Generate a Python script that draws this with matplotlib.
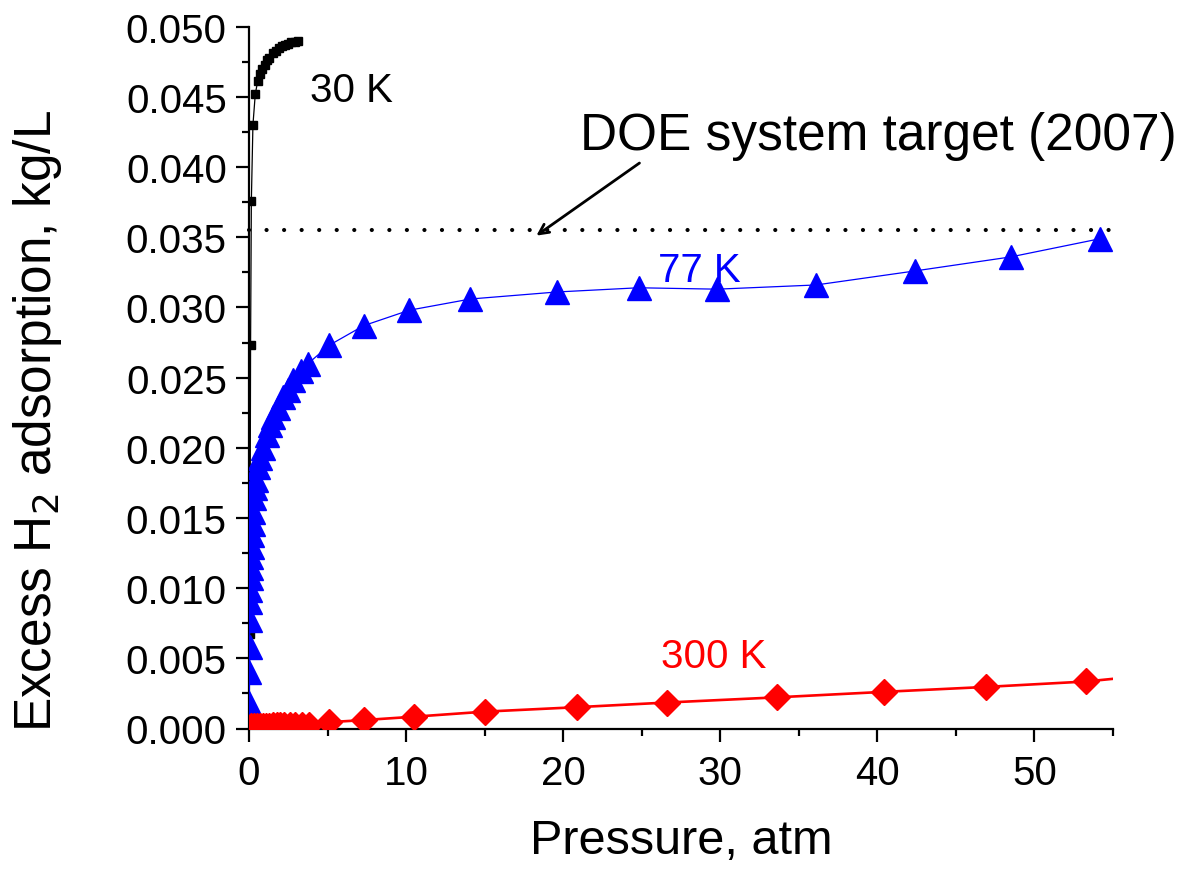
import matplotlib
matplotlib.use("Agg")
import matplotlib.pyplot as plt
import numpy as np

plt.rcParams['font.family'] = ['Liberation Sans', 'DejaVu Sans']

# ---- data ----
p30 = [0.05, 0.08, 0.1, 0.15, 0.25, 0.4, 0.55, 0.7, 0.85, 1.0, 1.15, 1.3, 1.5, 1.7, 1.9,
       2.1, 2.3, 2.5, 2.7, 2.9, 3.1]
q30 = [0.0067, 0.0181, 0.0273, 0.0376, 0.0430, 0.0452, 0.0461, 0.0466, 0.0470, 0.0473,
       0.0476, 0.0478, 0.0481, 0.0483, 0.0485, 0.0486, 0.0487, 0.0488, 0.0489, 0.0489, 0.0490]

p77 = [0.02, 0.03, 0.04, 0.05, 0.07, 0.09, 0.11, 0.13, 0.15, 0.18, 0.21, 0.24, 0.28, 0.33,
       0.38, 0.45, 0.55, 0.7, 0.9, 1.15, 1.34, 1.53, 1.85, 2.17, 2.5, 2.8, 3.3, 3.76,
       5.1, 7.3, 10.2, 14.1, 19.6, 24.8, 29.8, 36.1, 42.4, 48.5, 54.2]
q77 = [0.0018, 0.0040, 0.0058, 0.0077, 0.0090, 0.0099, 0.0107, 0.0114, 0.0122, 0.0129,
       0.0138, 0.0146, 0.0154, 0.0164, 0.0171, 0.0177, 0.0186, 0.0193, 0.0200, 0.0209,
       0.0216, 0.0222, 0.0228, 0.0236, 0.0241, 0.0248, 0.0255, 0.0260,
       0.0273, 0.0287, 0.0298, 0.0306, 0.0311, 0.0314, 0.0313, 0.0316, 0.0326, 0.0336, 0.0349]

p300 = [0.1, 0.3, 0.5, 0.7, 0.9, 1.1, 1.3, 1.5, 1.8, 2.0, 2.2, 2.6, 2.9, 3.4, 3.8,
        5.1, 7.3, 10.5, 15.0, 20.9, 26.6, 33.6, 40.4, 46.9, 53.3]
q300 = [0.00020, 0.00020, 0.00020, 0.00020, 0.00021, 0.00021, 0.00021, 0.00022, 0.00022,
        0.00022, 0.00023, 0.00023, 0.00024, 0.00024, 0.00025,
        0.00045, 0.00060, 0.00084, 0.00120, 0.00152, 0.00185, 0.00222, 0.00261, 0.00296, 0.00335]
p300_end = 56.0
q300_end = 0.00365

doe_p = [0.0, 55.5]
doe_q = [0.0355, 0.0355]

xticks = [0, 10, 20, 30, 40, 50]
yticks = [0.000, 0.005, 0.010, 0.015, 0.020, 0.025, 0.030, 0.035, 0.040, 0.045, 0.050]

# ---- figure ----
fig = plt.figure(figsize=(11.92, 8.70), dpi=100)
ax = fig.add_axes([249/1192, 1-729.5/870, (1113-249)/1192, (729.5-27.7)/870])

ax.plot(p30, q30, color='black', lw=0.9, marker='s', ms=5.8, mec='black', mfc='black', zorder=3)
ax.plot(p77, q77, color='blue', lw=0.9, marker='^', ms=17.5, mec='blue', mfc='blue', zorder=4)
ax.plot(list(p300) + [p300_end], list(q300) + [q300_end], color='red', lw=1.9, zorder=5)
ax.plot(p300, q300, ls='none', marker='D', ms=13.5, mec='red', mfc='red', zorder=5)

ax.plot(doe_p, doe_q, color='black', lw=3, linestyle=(0, (0.01, 4.2)),
        dash_capstyle='round', clip_on=False, zorder=2)

ax.set_xlim(0, 55)
ax.set_ylim(0, 0.050)
ax.set_xticks(xticks)
ax.set_xticks(np.arange(5, 56, 10), minor=True)
ax.set_yticks(yticks)
ax.set_yticks(np.arange(0.0025, 0.05, 0.005), minor=True)
ax.set_yticklabels([f"{v:.3f}" for v in yticks])

for s in ['top', 'right']:
    ax.spines[s].set_visible(False)
for s in ['left', 'bottom']:
    ax.spines[s].set_linewidth(1.6)

ax.tick_params(which='major', direction='out', length=9.5, width=1.6, labelsize=29)
ax.tick_params(axis='x', which='major', pad=9)
ax.tick_params(axis='y', which='major', pad=6.5)
ax.tick_params(which='minor', direction='out', length=5, width=1.6)

ax.set_xlabel('Pressure, atm', fontsize=35)
ax.set_ylabel('Excess H$_2$ adsorption, kg/L', fontsize=37)
ax.xaxis.set_label_coords(0.5, -0.127)
ax.yaxis.set_label_coords(-0.2141, 0.4396)

ax.text(3.9, 0.0447, '30 K', fontsize=29, color='black')
ax.text(26.05, 0.0319, '77 K', fontsize=29, color='blue')
ax.text(26.2, 0.00438, '300 K', fontsize=29, color='red')
ax.text(21.1, 0.0413, 'DOE system target (2007)', fontsize=37, color='black', clip_on=False)

ax.annotate('', xy=(18.15, 0.0350), xytext=(25.0, 0.0404),
            arrowprops=dict(arrowstyle='->,head_length=0.7,head_width=0.35', lw=2, color='black'),
            annotation_clip=False)

fig.savefig('out.png', dpi=100)
